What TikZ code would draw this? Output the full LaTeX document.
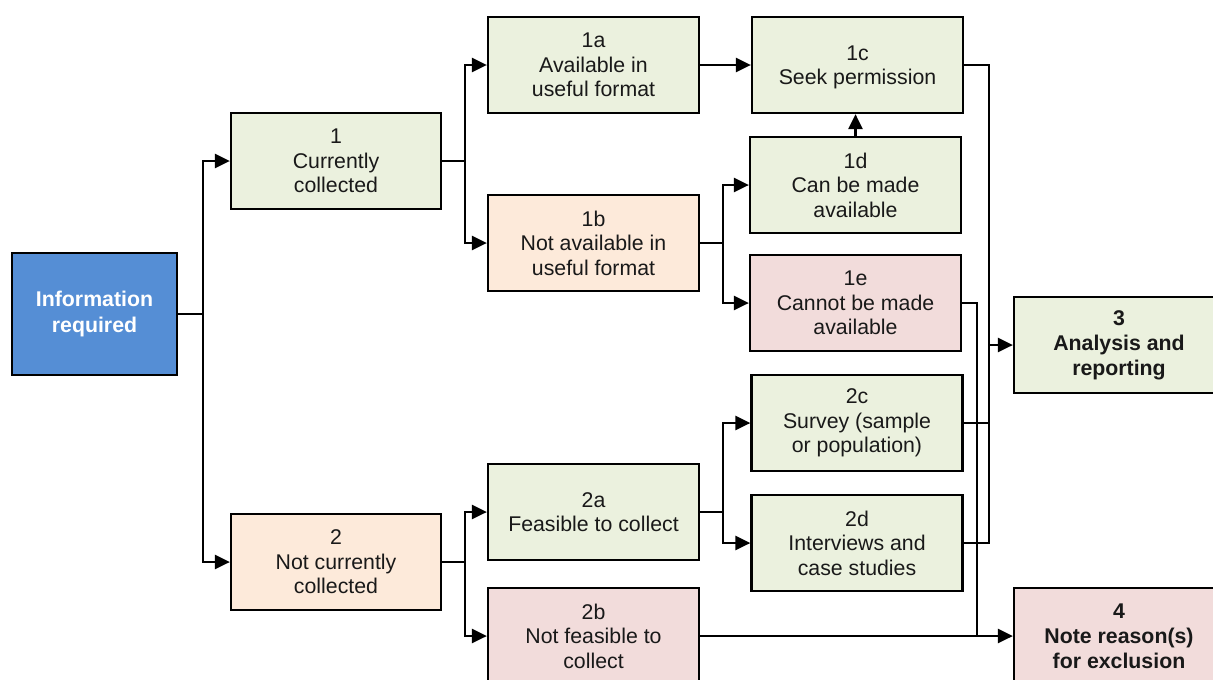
\documentclass[tikz,border=0pt]{standalone}
\usepackage{fontspec}
\setmainfont{Liberation Sans}
\usetikzlibrary{arrows.meta}
\definecolor{gfill}{HTML}{EBF1DE}
\definecolor{ofill}{HTML}{FDEADA}
\definecolor{pfill}{HTML}{F2DCDB}
\definecolor{bfill}{HTML}{558ED5}
\tikzset{
  box/.style={draw=black, line width=2.2pt, minimum width=210pt, minimum height=96pt,
    align=center, inner sep=0pt, font=\fontsize{21.3}{24.5}\selectfont, text=black!90},
  gbox/.style={box, fill=gfill},
  obox/.style={box, fill=ofill},
  pbox/.style={box, fill=pfill},
  conn/.style={line width=2.6pt},
  arr/.style={conn, -{Triangle[length=15pt,width=14pt]}},
}
\begin{document}
\begin{tikzpicture}[x=1pt,y=-1pt]
\clip (0,0) rectangle (1213,680);
\fill[white] (0,0) rectangle (1213,680);
\node[box, fill=bfill, minimum width=165pt, minimum height=122pt, text=white, font=\fontsize{21.3}{26}\selectfont\bfseries] (info) at (94.5,314) {Information\\required};
\node[gbox] (n1) at (336,161) {1\\Currently\\collected};
\node[obox] (n2) at (336,562) {2\\Not currently\\collected};
\node[gbox, minimum width=211pt] (n1a) at (593.5,65) {1a\\Available in\\useful format};
\node[obox, minimum width=211pt] (n1b) at (593.5,243) {1b\\Not available in\\useful format};
\node[gbox, minimum width=211pt] (n1c) at (857.5,65) {1c\\Seek permission\\[-24.5pt]\phantom{x}};
\node[gbox, minimum width=211pt] (n1d) at (855.5,185) {1d\\Can be made\\available};
\node[pbox, minimum width=211pt] (n1e) at (855.5,303) {1e\\Cannot be made\\available};
\node[gbox, minimum width=211pt] (n2a) at (593.5,512) {2a\\Feasible to collect\\[-24.5pt]\phantom{x}};
\node[pbox, minimum width=211pt] (n2b) at (593.5,636) {2b\\Not feasible to\\collect};
\node[gbox, minimum width=211pt] (n2c) at (857,423) {2c\\Survey (sample\\or population)};
\node[gbox, minimum width=211pt] (n2d) at (857,543) {2d\\Interviews and\\case studies};
\node[gbox, font=\fontsize{21.3}{25}\selectfont\bfseries] (n3) at (1119,345) {3\\Analysis and\\reporting};
\node[pbox, font=\fontsize{21.3}{25}\selectfont\bfseries] (n4) at (1119,636) {4\\Note reason(s)\\for exclusion};
% trunks
\coordinate (t0) at (203,314);
\coordinate (t1) at (465,161);
\coordinate (t2) at (465,562);
\coordinate (t1b) at (723,243);
\coordinate (t2a) at (723,512);
\coordinate (ra) at (989,0);
\coordinate (rb) at (977,0);
\draw[conn] (info.east) -- (t0);
\draw[arr] (t0) |- (n1.west);
\draw[arr] (t0) |- (n2.west);
\draw[conn] (n1.east) -- (t1);
\draw[arr] (t1) |- (n1a.west);
\draw[arr] (t1) |- (n1b.west);
\draw[arr] (n1a.east) -- (n1c.west);
\draw[arr] (n1d.north) -- (n1d.north |- n1c.south);
\draw[conn] (n1b.east) -- (t1b);
\draw[arr] (t1b) |- (n1d.west);
\draw[arr] (t1b) |- (n1e.west);
\draw[conn] (n2.east) -- (t2);
\draw[arr] (t2) |- (n2a.west);
\draw[arr] (t2) |- (n2b.west);
\draw[conn] (n2a.east) -- (t2a);
\draw[arr] (t2a) |- (n2c.west);
\draw[arr] (t2a) |- (n2d.west);
\draw[conn] (n1e.east) -| (rb |- n4.west);
\draw[conn] (n1c.east) -| (ra |- n2d.east) -- (n2d.east);
\draw[conn] (n2c.east) -- (ra |- n2c.east);
\draw[arr] (ra |- n3.west) -- (n3.west);
\draw[arr] (n2b.east) -- (n4.west);
\end{tikzpicture}
\end{document}
